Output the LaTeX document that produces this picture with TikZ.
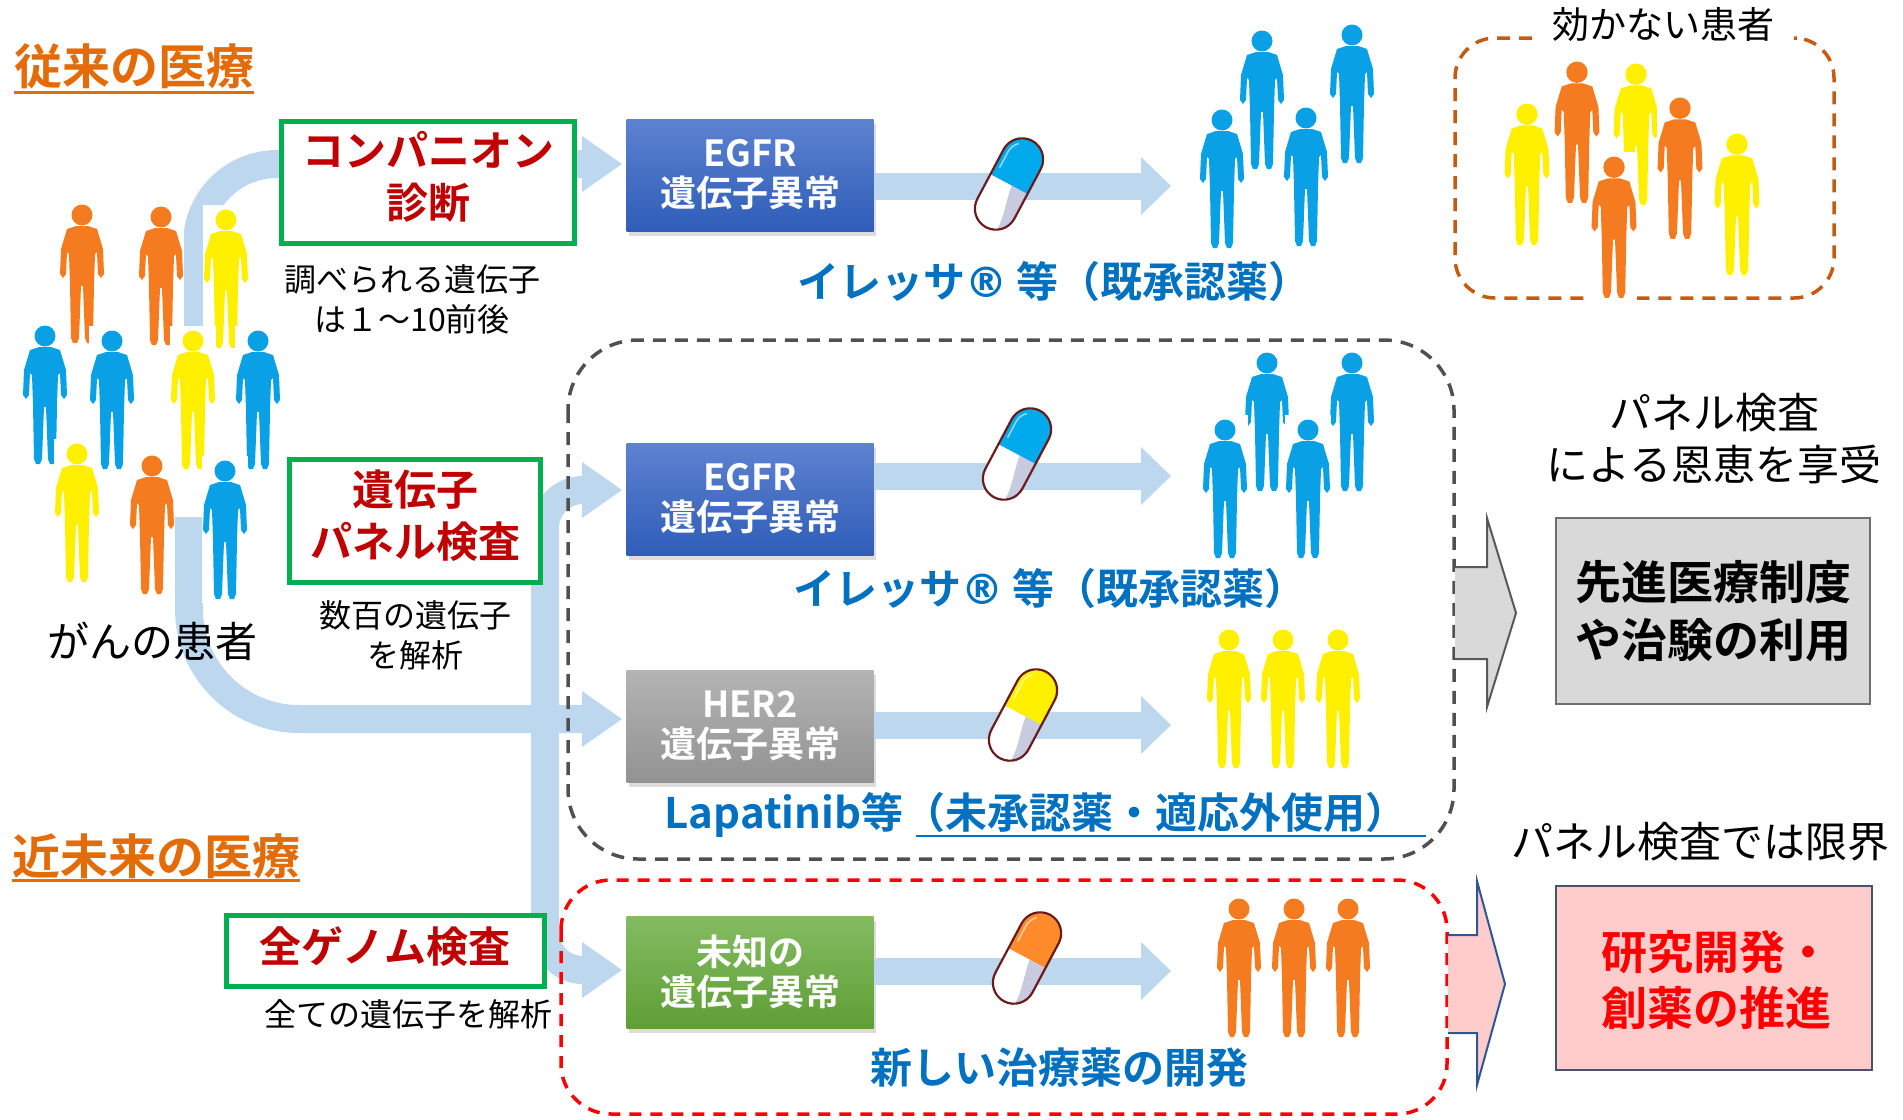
\documentclass[tikz,border=0pt]{standalone}
\usepackage{fontspec}
\setmainfont{Noto Sans CJK JP}[BoldFont={Noto Sans CJK JP Bold}]
\newfontfamily\regmark{DejaVu Sans}
\usetikzlibrary{shadows}

\definecolor{bandc}{HTML}{BDD7EE}
\definecolor{ttlor}{HTML}{E36C09}
\definecolor{gbox}{HTML}{00B050}
\definecolor{redtxt}{HTML}{C00000}
\definecolor{bluetxt}{HTML}{0070C0}
\definecolor{pblue}{HTML}{0AA0E6}
\definecolor{porange}{HTML}{F47B20}
\definecolor{pyellow}{HTML}{FFF000}
\definecolor{dashgray}{HTML}{505050}
\definecolor{dashor}{HTML}{C55A11}
\definecolor{pillrim}{HTML}{6A1B1B}
\definecolor{pilllav}{HTML}{C8CBE0}
\definecolor{capblue}{HTML}{00A8EC}
\definecolor{capyellow}{HTML}{FFF000}
\definecolor{caporange}{HTML}{FF8B2B}
\definecolor{egtop}{HTML}{5D82D0}
\definecolor{egbot}{HTML}{2F5DB8}
\definecolor{hrtop}{HTML}{B4B4B4}
\definecolor{hrbot}{HTML}{929292}
\definecolor{untop}{HTML}{84BC62}
\definecolor{unbot}{HTML}{5F9E35}
\definecolor{grayfill}{HTML}{D9D9D9}
\definecolor{grayline}{HTML}{6F6F6F}
\definecolor{pinkfill}{HTML}{FFCCCC}
\definecolor{pinkline}{HTML}{44546A}
\definecolor{arrgray}{HTML}{595959}
\definecolor{arrblue}{HTML}{2F5597}

\newcommand\fsz[2]{\fontsize{#1}{#2}\selectfont}
\newcommand\regsign{{\regmark\bfseries ®}}

\tikzset{
  pics/person/.style={code={
    \fill[white] (-23,-4) rectangle (23,143);
    \fill[#1] (0,11) circle[radius=10.5];
    \fill[#1] (-6,22) -- (6,22) -- (15,25) -- (21,45) -- (22,70) -- (19,74) -- (16,70)
      -- (15,48) -- (13,50) -- (12,80) -- (11,134) -- (9,139) -- (5,139) -- (3,134)
      -- (1,82) -- (-1,82) -- (-3,134) -- (-5,139) -- (-9,139) -- (-11,134) -- (-12,80)
      -- (-13,50) -- (-15,48) -- (-16,70) -- (-19,74) -- (-22,70) -- (-21,45) -- (-15,25) -- cycle;
  }},
  pics/pill/.style={code={
    \begin{scope}[rotate=62]
      \fill[pilllav] (0,-21) -- (-28,-21) arc[start angle=270,end angle=90,radius=21] -- (0,21) -- cycle;
      \fill[white] (0,-21) -- (-28,-21) arc[start angle=270,end angle=150,radius=21]
        .. controls (-34,12) and (-12,4) .. (0,3) -- cycle;
      \fill[#1] (0,-21) -- (28,-21) arc[start angle=-90,end angle=90,radius=21] -- (0,21) -- cycle;
      \draw[white!55!#1, line width=1.6pt] (10,-16) -- (28,-16) arc[start angle=-90,end angle=-40,radius=16];
      \draw[pillrim, line width=2.2pt] (-28,-21) -- (28,-21) arc[start angle=-90,end angle=90,radius=21]
        -- (-28,21) arc[start angle=90,end angle=270,radius=21] -- cycle;
    \end{scope}
  }},
}

\begin{document}
\begin{tikzpicture}[x=1pt, y=-1pt,
  band/.style={draw=bandc, line width=28pt},
  bandr/.style={draw=bandc, line width=27pt},
  greenbox/.style={draw=gbox, line width=5pt, fill=white, inner sep=0pt},
  genebox/.style={minimum width=247pt, minimum height=112pt, inner sep=0pt,
    drop shadow={shadow xshift=2pt, shadow yshift=-5pt, opacity=0.28}},
  boxtxt/.style={text=white, font=\fsz{36}{40}\bfseries, align=center, inner sep=0pt},
  redlbl/.style={text=redtxt, font=\fsz{42}{52}\bfseries, align=center, inner sep=0pt},
  note/.style={text=black, font=\fsz{32}{40}, align=center, inner sep=0pt},
  drug/.style={text=bluetxt, font=\fsz{42}{50}\bfseries, inner sep=0pt},
  side/.style={text=black, font=\fsz{42}{52}, align=center, inner sep=0pt},
  title/.style={text=ttlor, font=\fsz{48}{56}\bfseries, anchor=west, inner sep=0pt},
  graydash/.style={draw=dashgray, line width=3.5pt, dash pattern=on 13pt off 9pt},
  ordash/.style={draw=dashor, line width=3.5pt, dash pattern=on 13pt off 9pt},
  reddash/.style={draw=red, line width=3.5pt, dash pattern=on 12pt off 9pt},
]
\useasboundingbox (0,0) rectangle (1903,1119);

% ---------- section titles ----------
\node[title] (ttl1) at (14,66) {従来の医療};
\draw[ttlor, line width=3pt] (ttl1.west |- 0,92) -- (ttl1.east |- 0,92);
\node[title] (ttl2) at (12,856) {近未来の医療};
\draw[ttlor, line width=3pt] (ttl2.west |- 0,880) -- (ttl2.east |- 0,880);

% ---------- light-blue flow bands on the left ----------
\coordinate (hA) at (622,164);
\coordinate (hB) at (622,719);
\coordinate (hC) at (622,490);
\coordinate (hD) at (622,970);
\draw[band, rounded corners=80pt] (197,380) |- ([xshift=-38]hA);
\draw[band, rounded corners=110pt] (189,517) |- ([xshift=-38]hB);
\draw[band, rounded corners=38pt] ([xshift=-38]hC) -- (545,490) -- (545,970) -- ([xshift=-38]hD);
\foreach \h in {hA,hB,hC,hD}
  \fill[bandc] (\h) -- ++(-40,-28) -- ++(0,56) -- cycle;

% ---------- patients ----------
\pic at (82,204) {person=porange};
\pic at (161,206) {person=porange};
\pic at (226,209) {person=pyellow};
\pic at (45,325) {person=pblue};
\pic at (112,330) {person=pblue};
\pic at (193,330) {person=pyellow};
\pic at (258,330) {person=pblue};
\pic at (77,443) {person=pyellow};
\pic at (152,455) {person=porange};
\pic at (225,460) {person=pblue};
\node[side] (pat) at (152,641) {がんの患者};

% ---------- test boxes ----------
\node[greenbox, minimum width=293pt, minimum height=122pt] (cdx) at (428,182) {};
\node[redlbl] (cdxt) at (428,177) {コンパニオン\\診断};
\node[note] (cdxn) at (412,299) {調べられる遺伝子\\は１～10前後};

\node[greenbox, minimum width=251pt, minimum height=123pt] (pnl) at (415,521) {};
\node[redlbl] (pnlt) at (415,516) {遺伝子\\パネル検査};
\node[note] (pnln) at (415,635) {数百の遺伝子\\を解析};

\node[greenbox, minimum width=318pt, minimum height=71pt] (wgs) at (385,951) {};
\node[redlbl] (wgst) at (385,947) {全ゲノム検査};
\node[note] (wgsn) at (408,1014) {全ての遺伝子を解析};

% ---------- dashed groupings ----------
\draw[graydash, rounded corners=70pt] (568,340) rectangle (1454,859);
\draw[reddash, rounded corners=50pt] (561,880) rectangle (1447,1114);
\draw[ordash, rounded corners=40pt] (1532,38) -- (1455,38) -- (1455,298) -- (1834,298) -- (1834,38) -- (1797,38);
\node[text=black, font=\fsz{37}{44}, inner sep=0pt] (nores) at (1663,25) {効かない患者};

% ---------- gene alteration boxes ----------
\node[genebox, top color=egtop, bottom color=egbot] (eg1) at (750,175) {};
\node[boxtxt] at (eg1) {EGFR\\遺伝子異常};
\node[genebox, top color=egtop, bottom color=egbot] (eg2) at (750,499) {};
\node[boxtxt] at (eg2) {EGFR\\遺伝子異常};
\node[genebox, top color=hrtop, bottom color=hrbot] (her) at (750,726) {};
\node[boxtxt] at (her) {HER2\\遺伝子異常};
\node[genebox, top color=untop, bottom color=unbot] (unk) at (750,972) {};
\node[boxtxt] at (unk) {未知の\\遺伝子異常};

% ---------- drug arrows ----------
\coordinate (r1) at (1171,186);
\coordinate (r2) at (1171,476);
\coordinate (r3) at (1171,725);
\coordinate (r4) at (1171,971);
\draw[bandr] (eg1.east |- r1) -- ([xshift=-28]r1);
\draw[bandr] (eg2.east |- r2) -- ([xshift=-28]r2);
\draw[bandr] (her.east |- r3) -- ([xshift=-28]r3);
\draw[bandr] (unk.east |- r4) -- ([xshift=-28]r4);
\foreach \h in {r1,r2,r3,r4}
  \fill[bandc] (\h) -- ++(-30,-29) -- ++(0,58) -- cycle;

\pic at (1009,184) {pill=capblue};
\pic at (1017,454) {pill=capblue};
\pic at (1023,715) {pill=capyellow};
\pic at (1027,958) {pill=caporange};

% ---------- responders ----------
\pic at (1262,30) {person=pblue};
\pic at (1352,24) {person=pblue};
\pic at (1222,109) {person=pblue};
\pic at (1306,107) {person=pblue};

\pic at (1267,352) {person=pblue};
\pic at (1352,352) {person=pblue};
\pic at (1225,419) {person=pblue};
\pic at (1308,419) {person=pblue};

\pic at (1229,629) {person=pyellow};
\pic at (1283,629) {person=pyellow};
\pic at (1338,629) {person=pyellow};

\pic at (1239,898) {person=porange};
\pic at (1294,898) {person=porange};
\pic at (1348,898) {person=porange};

% ---------- non-responders ----------
\pic[scale=1.02] at (1577,61) {person=porange};
\pic[scale=1.02] at (1636,63) {person=pyellow};
\pic[scale=1.02] at (1527,103) {person=pyellow};
\pic[scale=1.02] at (1680,97) {person=porange};
\pic[scale=1.02] at (1737,133) {person=pyellow};
\pic[scale=1.02] at (1614,156) {person=porange};

% ---------- drug labels ----------
\node[drug] (d1) at (1054,282) {イレッサ\regsign\ 等（既承認薬）};
\node[drug] (d2) at (1050,589) {イレッサ\regsign\ 等（既承認薬）};
\node[drug] (d3) at (1036,815) {Lapatinib等（未承認薬・適応外使用）};
\draw[bluetxt, line width=2pt] (916,836) -- (1426,836);
\node[drug] (d4) at (1059,1068) {新しい治療薬の開発};

% ---------- outcomes ----------
\node[side] (benefit) at (1714,439) {パネル検査\\による恩恵を享受};
\fill[grayfill] (1455,567) -- (1487,567) -- (1487,518) -- (1516,613) -- (1487,707) -- (1487,659) -- (1455,659) -- cycle;
\draw[arrgray, line width=2pt] (1455,567) -- (1487,567) -- (1487,518) -- (1516,613) -- (1487,707) -- (1487,659) -- (1455,659);
\node[draw=grayline, line width=2.5pt, fill=grayfill, minimum width=314pt, minimum height=186pt, inner sep=0pt] (adv) at (1713,611) {};
\node[text=black, font=\fsz{46}{58}\bfseries, align=center, inner sep=0pt] at (adv) {先進医療制度\\や治験の利用};

\node[side] (limit) at (1700,842) {パネル検査では限界};
\fill[pinkfill] (1448,935) -- (1477,935) -- (1477,881) -- (1505,984) -- (1477,1085) -- (1477,1033) -- (1448,1033) -- cycle;
\draw[arrblue, line width=2pt] (1448,935) -- (1477,935) -- (1477,881) -- (1505,984) -- (1477,1085) -- (1477,1033) -- (1448,1033);
\node[draw=pinkline, line width=2.5pt, fill=pinkfill, minimum width=316pt, minimum height=184pt, inner sep=0pt] (rnd) at (1714,978) {};
\node[text=red, font=\fsz{46}{56}\bfseries, align=left, inner sep=0pt] at (1716,980) {研究開発・\\創薬の推進};
\end{tikzpicture}
\end{document}
